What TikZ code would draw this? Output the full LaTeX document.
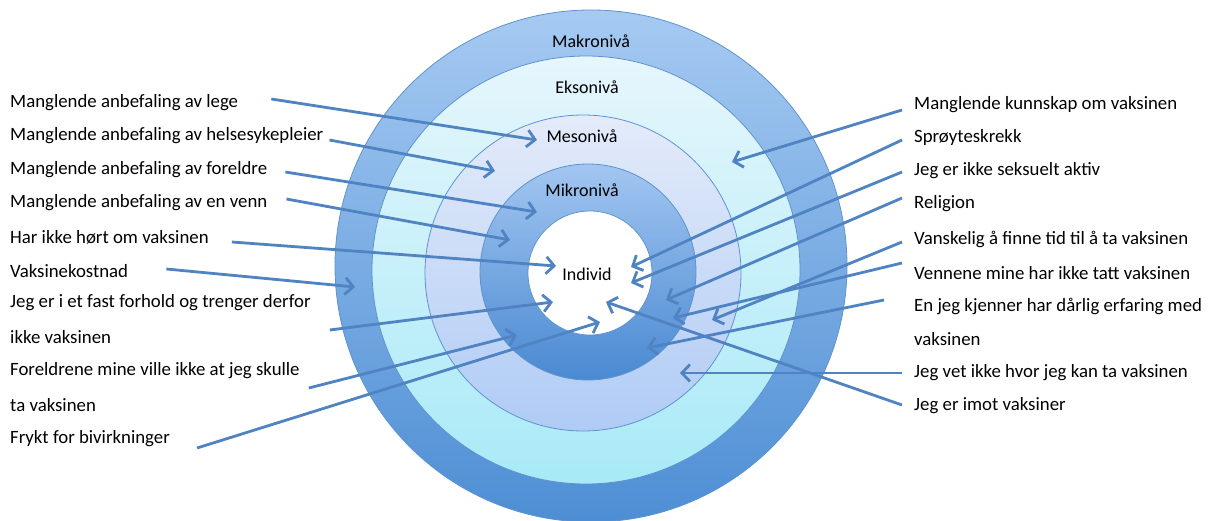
\documentclass[tikz,border=0pt]{standalone}
\usepackage{fontspec}
\setmainfont{Carlito}
\usetikzlibrary{arrows.meta}

\definecolor{pilblue}{HTML}{4F83C2}
\definecolor{kant}{HTML}{5E93D0}
\definecolor{makrotop}{HTML}{A6CAF2}
\definecolor{makrobot}{HTML}{4D8ED4}
\definecolor{eksotop}{HTML}{E6F6FC}
\definecolor{eksobot}{HTML}{A8EAF7}
\definecolor{mesotop}{HTML}{E4EBFA}
\definecolor{mesobot}{HTML}{AFCBF5}
\definecolor{mikrotop}{HTML}{A2C6F1}
\definecolor{mikrobot}{HTML}{4A89D2}

\begin{document}
\begin{tikzpicture}[x=1pt, y=-1pt,
  lbl/.style={anchor=west, inner sep=0pt, font=\fontsize{18.8}{22}\selectfont},
  niva/.style={inner sep=0pt, font=\fontsize{18}{21}\selectfont},
  ring/.style={draw=kant, line width=0.8pt},
  pil/.style={draw=pilblue, line width=2.8pt,
    -{Straight Barb[length=8pt, width=17pt, line width=2.8pt]}}]

\useasboundingbox (0,0) rectangle (1208,521);

% the five levels
\shade[ring, top color=makrotop, bottom color=makrobot] (591,266) circle (256);
\shade[ring, top color=eksotop, bottom color=eksobot] (586,270) circle (214);
\shade[ring, top color=mesotop, bottom color=mesobot] (583,273) circle (158);
\shade[ring, top color=mikrotop, bottom color=mikrobot] (588,272) circle (108);
\filldraw[ring, fill=white] (590,273) circle (62);

\node[niva] (makro) at (591,41) {Makronivå};
\node[niva] (ekso) at (587,87) {Eksonivå};
\node[niva] (meso) at (582,136) {Mesonivå};
\node[niva] (mikro) at (582,190) {Mikronivå};
\node[niva] (individ) at (587,274) {Individ};

% left column
\node[lbl] (lege) at (10,103) {Manglende anbefaling av lege};
\node[lbl] (helse) at (10,136) {Manglende anbefaling av helsesykepleier};
\node[lbl] (foreldre) at (10,170) {Manglende anbefaling av foreldre};
\node[lbl] (venn) at (10,203) {Manglende anbefaling av en venn};
\node[lbl] (hort) at (10,237) {Har ikke hørt om vaksinen};
\node[lbl] (kostnad) at (10,271) {Vaksinekostnad};
\node[lbl] (fast1) at (10,303) {Jeg er i et fast forhold og trenger derfor};
\node[lbl] (fast2) at (10,337) {ikke vaksinen};
\node[lbl] (foreldrene1) at (10,371) {Foreldrene mine ville ikke at jeg skulle};
\node[lbl] (foreldrene2) at (10,405) {ta vaksinen};
\node[lbl] (frykt) at (10,439) {Frykt for bivirkninger};

% right column
\node[lbl] (kunnskap) at (914,105) {Manglende kunnskap om vaksinen};
\node[lbl] (sproyte) at (914,137) {Sprøyteskrekk};
\node[lbl] (seksuelt) at (914,171) {Jeg er ikke seksuelt aktiv};
\node[lbl] (religion) at (914,204) {Religion};
\node[lbl] (tid) at (914,239) {Vanskelig å finne tid til å ta vaksinen};
\node[lbl] (vennene) at (914,273) {Vennene mine har ikke tatt vaksinen};
\node[lbl] (kjenner1) at (914,306) {En jeg kjenner har dårlig erfaring med};
\node[lbl] (kjenner2) at (914,339) {vaksinen};
\node[lbl] (hvor) at (914,373) {Jeg vet ikke hvor jeg kan ta vaksinen};
\node[lbl] (imot) at (914,406) {Jeg er imot vaksiner};

% where the arrows land
\coordinate (t-lege) at (537,140);
\coordinate (t-helse) at (495,171);
\coordinate (t-foreldre) at (537,212);
\coordinate (t-venn) at (510,240);
\coordinate (t-hort) at (556,266);
\coordinate (t-kostnad) at (355,287);
\coordinate (t-fast) at (553,302);
\coordinate (t-foreldrene) at (517,335);
\coordinate (t-frykt) at (600,322);
\coordinate (t-kunnskap) at (732,162);
\coordinate (t-sproyte) at (631,267);
\coordinate (t-seksuelt) at (631,283);
\coordinate (t-religion) at (666,300);
\coordinate (t-tid) at (712,320);
\coordinate (t-vennene) at (673,318);
\coordinate (t-kjenner) at (647,348);
\coordinate (t-hvor) at (680,373);
\coordinate (t-imot) at (606,302);

% arrows from the left
\draw[pil] ([xshift=33pt,yshift=4pt]lege.east) -- (t-lege);
\draw[pil] ([xshift=6pt,yshift=-4pt]helse.east) -- (t-helse);
\draw[pil] ([xshift=18pt,yshift=-2pt]foreldre.east) -- (t-foreldre);
\draw[pil] ([xshift=19pt,yshift=4pt]venn.east) -- (t-venn);
\draw[pil] ([xshift=23pt,yshift=-5pt]hort.east) -- (t-hort);
\draw[pil] ([xshift=38pt,yshift=2pt]kostnad.east) -- (t-kostnad);
\draw[pil] ([xshift=19pt,yshift=-27pt]fast1.east) -- (t-fast);
\draw[pil] ([xshift=9pt,yshift=-17pt]foreldrene1.east) -- (t-foreldrene);
\draw[pil] ([xshift=27pt,yshift=-9pt]frykt.east) -- (t-frykt);

% arrows from the right
\draw[pil] ([xshift=-12pt,yshift=-5pt]kunnskap.west) -- (t-kunnskap);
\draw[pil] ([xshift=-12pt,yshift=-3pt]sproyte.west) -- (t-sproyte);
\draw[pil] ([xshift=-12pt,yshift=-1pt]seksuelt.west) -- (t-seksuelt);
\draw[pil] ([xshift=-12pt,yshift=6pt]religion.west) -- (t-religion);
\draw[pil] ([xshift=-12pt,yshift=-3pt]tid.west) -- (t-tid);
\draw[pil] ([xshift=-12pt,yshift=10pt]vennene.west) -- (t-vennene);
\draw[pil] ([xshift=-30pt,yshift=6pt]kjenner1.west) -- (t-kjenner);
\draw[pil] ([xshift=-12pt]hvor.west) -- (t-hvor);
\draw[pil] ([xshift=-12pt,yshift=1pt]imot.west) -- (t-imot);
\end{tikzpicture}
\end{document}
